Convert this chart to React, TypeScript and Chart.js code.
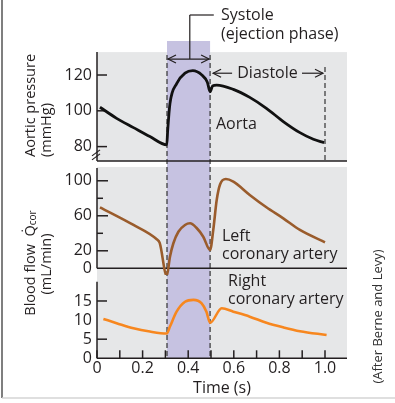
import React, { useEffect, useRef } from "react";
import { Chart, registerables } from "chart.js";

Chart.register(...registerables);

// ---------- data ----------
const aortaTime = [0.013, 0.086, 0.16, 0.232, 0.306, 0.31, 0.32, 0.35, 0.386, 0.42, 0.46, 0.484, 0.496, 0.507, 0.525, 0.598, 0.67, 0.743, 0.817, 0.89, 0.949, 0.996];
const aortaPressure = [102, 95.8, 90.6, 85.6, 81, 89, 104, 115.3, 121, 122.4, 120, 116, 110.7, 113.9, 114.4, 112, 107.5, 101.4, 94, 87.8, 84.1, 82.2];

const leftTime = [0.013, 0.16, 0.262, 0.275, 0.306, 0.32, 0.335, 0.357, 0.386, 0.408, 0.437, 0.466, 0.496, 0.51, 0.525, 0.54, 0.565, 0.598, 0.67, 0.743, 0.817, 0.89, 1.0];
const leftFlow = [69.7, 49.5, 33.1, 29, -8.8, 13.3, 28.6, 41.8, 49.5, 51.4, 46, 36.1, 20.9, 44, 78, 96, 102, 99, 83.8, 69.7, 57.1, 43.8, 29.7];

const rightTime = [0.028, 0.086, 0.16, 0.232, 0.306, 0.32, 0.349, 0.386, 0.423, 0.459, 0.48, 0.496, 0.547, 0.598, 0.67, 0.743, 0.817, 0.89, 1.007];
const rightFlow = [10.3, 9.2, 7.85, 7, 6.5, 8.3, 12.2, 14.8, 15.3, 14.4, 12.2, 9.3, 13.1, 12.2, 10.9, 9.3, 8.1, 7.1, 6.1];

const timeTicks = [0, 0.1, 0.2, 0.3, 0.4, 0.5, 0.6, 0.7, 0.8, 0.9, 1.0];
const aortaTicks = [80, 100, 120];
const leftTicks = [0, 20, 60, 100];
const leftMinorTicks = [40, 80];
const rightTicks = [0, 5, 10, 15];
const rightTickMarks = [5, 15];

const systoleStart = 0.307;
const systoleEnd = 0.496;
const diastoleEnd = 1.0;

// ---------- style ----------
const FONT = "'Open Sans', sans-serif";
const INK = "#231f20";
const GRAY = "#e6e7e8";
const PURPLE = "#c6c2e1";
const W = 395;
const H = 403;

const pts = (xs: number[], ys: number[]) => xs.map((x, i) => ({ x, y: ys[i] }));

const decorPlugin = {
  id: "decor",
  beforeDatasetsDraw(chart: any) {
    const { ctx, chartArea, scales } = chart;
    const x = scales.x, yA = scales.yA, yL = scales.yL, yR = scales.yR;
    const L = chartArea.left, R = chartArea.right;
    ctx.save();
    // gray panels
    ctx.fillStyle = GRAY;
    const aTop = yA.getPixelForValue(132.8), aBot = yA.getPixelForValue(72);
    ctx.fillRect(L, aTop, R - L, aBot - aTop);
    const lTop = yL.getPixelForValue(115.8), rBot = yR.getPixelForValue(0);
    ctx.fillRect(L, lTop, R - L, rBot - lTop);
    // systole band
    const s0 = x.getPixelForValue(systoleStart), s1 = x.getPixelForValue(systoleEnd);
    ctx.fillStyle = PURPLE;
    ctx.fillRect(s0, chartArea.top, s1 - s0, chartArea.bottom - chartArea.top);
    // dashed lines
    ctx.strokeStyle = "#333";
    ctx.lineWidth = 1.2;
    ctx.setLineDash([5, 3]);
    const dTop = yA.getPixelForValue(131.2);
    [s0, s1].forEach((px) => {
      ctx.beginPath();
      ctx.moveTo(px, dTop);
      ctx.lineTo(px, chartArea.bottom);
      ctx.stroke();
    });
    const d2 = x.getPixelForValue(diastoleEnd);
    ctx.beginPath();
    ctx.moveTo(d2, yA.getPixelForValue(124.5));
    ctx.lineTo(d2, aBot);
    ctx.stroke();
    ctx.setLineDash([]);
    // axes
    ctx.strokeStyle = INK;
    ctx.lineWidth = 1.5;
    const line = (x1: number, y1: number, x2: number, y2: number) => {
      ctx.beginPath();
      ctx.moveTo(x1, y1);
      ctx.lineTo(x2, y2);
      ctx.stroke();
    };
    // panel A
    line(L, aTop, L, aBot);
    line(L, aBot, R, aBot);
    aortaTicks.forEach((v) => line(L, yA.getPixelForValue(v), L + 10, yA.getPixelForValue(v)));
    // panel L
    const l0 = yL.getPixelForValue(0);
    line(L, yL.getPixelForValue(114.6), L, l0);
    line(L, l0, R, l0);
    leftTicks.filter((v) => v !== 0).forEach((v) => line(L, yL.getPixelForValue(v), L + 11, yL.getPixelForValue(v)));
    leftMinorTicks.forEach((v) => line(L, yL.getPixelForValue(v), L + 6, yL.getPixelForValue(v)));
    // panel R
    line(L, yR.getPixelForValue(20.05), L, rBot);
    line(L, rBot, R, rBot);
    rightTickMarks.forEach((v) => line(L, yR.getPixelForValue(v), L + 10, yR.getPixelForValue(v)));
    timeTicks.forEach((t) => line(x.getPixelForValue(t), rBot, x.getPixelForValue(t), rBot - 8));
    // axis break
    const yb = yA.getPixelForValue(76.5);
    ctx.lineWidth = 1.2;
    line(L - 5, yb + 3, L + 3, yb - 3);
    line(L - 5, yb + 7, L + 3, yb + 1);
    ctx.restore();
  },
  afterDatasetsDraw(chart: any) {
    const { ctx, scales } = chart;
    const x = scales.x, yA = scales.yA;
    const s0 = x.getPixelForValue(systoleStart), s1 = x.getPixelForValue(systoleEnd);
    const d2 = x.getPixelForValue(diastoleEnd);
    ctx.save();
    ctx.strokeStyle = INK;
    ctx.fillStyle = INK;
    ctx.lineWidth = 1.2;
    const line = (x1: number, y1: number, x2: number, y2: number) => {
      ctx.beginPath();
      ctx.moveTo(x1, y1);
      ctx.lineTo(x2, y2);
      ctx.stroke();
    };
    const head = (tx: number, ty: number, dir: number) => {
      ctx.beginPath();
      ctx.moveTo(tx - dir * 8, ty - 4);
      ctx.lineTo(tx, ty);
      ctx.lineTo(tx - dir * 8, ty + 4);
      ctx.stroke();
    };
    // systole bracket
    const ya = yA.getPixelForValue(128.9);
    const mid = x.getPixelForValue(0.407);
    line(s0 + 1, ya, s1 - 1, ya);
    head(s0 + 1, ya, -1);
    head(s1 - 1, ya, 1);
    line(mid, ya, mid, 15);
    line(mid, 15, mid + 24, 15);
    // diastole arrows
    const yd = yA.getPixelForValue(121);
    line(s1 + 3, yd, s1 + 22, yd);
    head(s1 + 3, yd, -1);
    line(d2 - 23, yd, d2 - 2, yd);
    head(d2 - 2, yd, 1);

    ctx.textBaseline = "middle";
    ctx.textAlign = "left";
    ctx.font = `16px ${FONT}`;
    ctx.fillText("Systole", 221, 15);
    ctx.fillText("(ejection phase)", 221, 34);
    ctx.textAlign = "center";
    ctx.fillText("Diastole", 267.5, yd);
    ctx.textAlign = "left";
    ctx.fillText("Aorta", 216, 124);
    ctx.fillText("Left", 222, 236);
    ctx.fillText("coronary artery", 222, 254);
    ctx.fillText("Right", 228, 281);
    ctx.fillText("coronary artery", 228, 299);

    // axis titles
    ctx.font = `14.5px ${FONT}`;
    ctx.save();
    ctx.translate(30.5, 157);
    ctx.rotate(-Math.PI / 2);
    ctx.textAlign = "left";
    ctx.fillText("Aortic pressure", 0, 0);
    ctx.restore();
    ctx.save();
    ctx.translate(47, 157);
    ctx.rotate(-Math.PI / 2);
    ctx.textAlign = "left";
    ctx.fillText("(mmHg)", 0, 0);
    ctx.restore();

    ctx.save();
    ctx.translate(30.5, 263);
    ctx.rotate(-Math.PI / 2);
    ctx.textAlign = "left";
    const main = "Blood flow  Q\u0307";
    ctx.font = `14.5px ${FONT}`;
    const wm = ctx.measureText(main).width;
    ctx.font = `10px ${FONT}`;
    const ws = ctx.measureText("cor").width;
    const start = -(wm + ws) / 2;
    ctx.font = `14.5px ${FONT}`;
    ctx.fillText(main, start, 0);
    ctx.font = `10px ${FONT}`;
    ctx.fillText("cor", start + wm, 3);
    ctx.restore();

    ctx.save();
    ctx.translate(47, 264);
    ctx.rotate(-Math.PI / 2);
    ctx.textAlign = "center";
    ctx.font = `14.5px ${FONT}`;
    ctx.fillText("(mL/min)", 0, 0);
    ctx.restore();

    ctx.save();
    ctx.translate(378, 316.5);
    ctx.rotate(-Math.PI / 2);
    ctx.textAlign = "center";
    ctx.fillStyle = "#333";
    ctx.font = `13px ${FONT}`;
    ctx.fillText("(After Berne and Levy)", 0, 0);
    ctx.restore();

    // frame
    ctx.strokeStyle = "#555";
    ctx.lineWidth = 1.5;
    line(2, 0, 2, 398);
    ctx.strokeStyle = "#d4d4d4";
    line(2, 398, W, 398);
    ctx.restore();
  },
};

const yAxis = (min: number, max: number, ticks: number[], weight: number, stackWeight: number) => ({
  type: "linear",
  position: "left",
  stack: "panels",
  stackWeight,
  weight,
  min,
  max,
  afterBuildTicks: (s: any) => {
    s.ticks = ticks.map((v) => ({ value: v }));
  },
  afterFit: (s: any) => {
    s.width = 97;
  },
  grid: { display: false, drawTicks: false },
  border: { display: false },
  ticks: { autoSkip: false, padding: 5, color: INK, font: { family: FONT, size: 16 } },
});

export default function App() {
  const ref = useRef<HTMLCanvasElement>(null);
  useEffect(() => {
    if (!ref.current) return;
    const chart = new Chart(ref.current, {
      type: "line",
      data: {
        datasets: [
          { data: pts(aortaTime, aortaPressure), xAxisID: "x", yAxisID: "yA", borderColor: "#111", borderWidth: 2.8 },
          { data: pts(leftTime, leftFlow), xAxisID: "x", yAxisID: "yL", borderColor: "#9a5c2c", borderWidth: 2.6 },
          { data: pts(rightTime, rightFlow), xAxisID: "x", yAxisID: "yR", borderColor: "#f7871f", borderWidth: 2.6 },
        ],
      },
      options: {
        animation: false,
        responsive: false,
        devicePixelRatio: 1,
        layout: { padding: { left: 0, top: 41, right: 48, bottom: 0 } },
        elements: {
          point: { radius: 0 },
          line: { cubicInterpolationMode: "monotone", fill: false },
        },
        plugins: { legend: { display: false }, tooltip: { enabled: false } },
        scales: {
          x: {
            type: "linear",
            position: "bottom",
            min: 0,
            max: 1.0965,
            afterBuildTicks: (s: any) => {
              s.ticks = timeTicks.map((v) => ({ value: v }));
            },
            afterFit: (s: any) => {
              s.height = H - 358.3;
            },
            grid: { display: false, drawTicks: false },
            border: { display: false },
            ticks: {
              autoSkip: false,
              maxRotation: 0,
              padding: 1,
              color: INK,
              font: { family: FONT, size: 16 },
              callback: (v: any) => {
                const n = Math.round(Number(v) * 10);
                if (n % 2 !== 0) return "";
                return n === 0 ? "0" : (n / 10).toFixed(1);
              },
            },
            title: {
              display: true,
              text: "Time (s)",
              color: INK,
              font: { family: FONT, size: 16 },
              padding: { top: 0, bottom: 5.4 },
            },
          },
          yR: yAxis(0, 21.8, rightTicks, 1, 83.3),
          yL: yAxis(-7.66, 118.6, leftTicks, 2, 110.5),
          yA: yAxis(70, 139, aortaTicks, 3, 123.5),
        } as any,
      },
      plugins: [decorPlugin],
    } as any);
    return () => chart.destroy();
  }, []);
  return (
    <div style={{ position: "absolute", left: 0, top: 0, width: W, height: H, background: "#fff" }}>
      <canvas ref={ref} width={W} height={H} style={{ display: "block", width: W, height: H }} />
    </div>
  );
}
